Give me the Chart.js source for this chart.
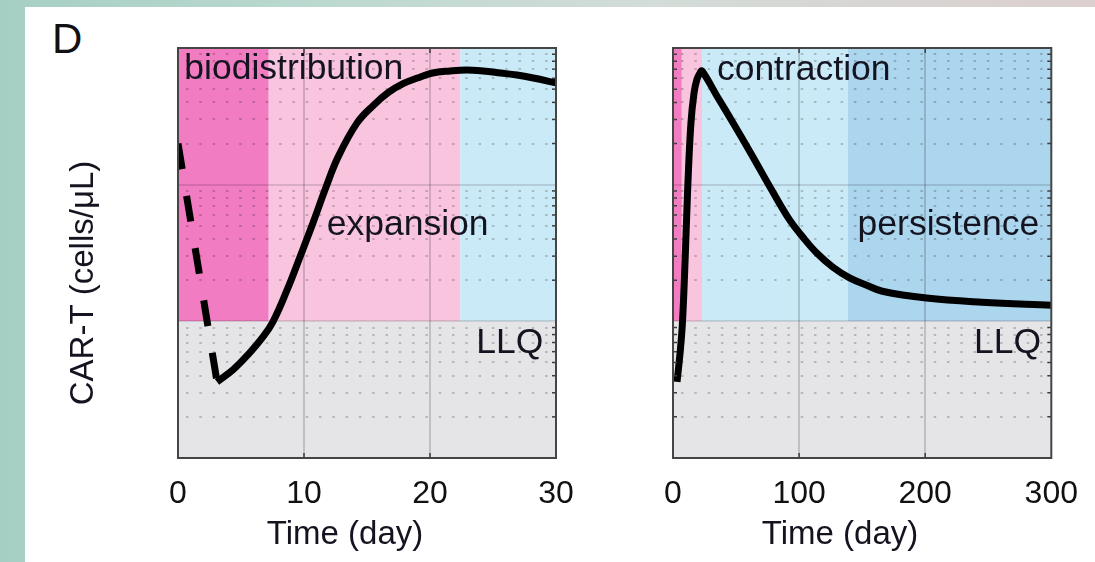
<!DOCTYPE html>
<html>
<head>
<meta charset="utf-8">
<script src="https://cdn.jsdelivr.net/npm/chart.js@4.4.1/dist/chart.umd.min.js"></script>
<style>
  html, body { margin: 0; padding: 0; }
  body {
    width: 1095px; height: 562px; overflow: hidden; position: relative;
    background: linear-gradient(90deg, #a6cfc3 0%, #bcd9d0 30%, #d3dcd8 60%, #dccfcf 100%);
    font-family: 'Liberation Sans', Arial, sans-serif;
  }
  #sheet { position: absolute; left: 25px; top: 7px; right: 0; bottom: 0; background: #fff; }
  #panelTag { position: absolute; left: 52px; top: 18px; font-size: 42px; line-height: 42px; color: #111; }
  .wrap { position: absolute; top: 0; height: 562px; }
  #wrapLeft { left: 0; width: 615px; }
  #wrapRight { left: 615px; width: 480px; }
</style>
</head>
<body>
<div id="sheet"></div>
<div id="panelTag">D</div>
<div class="wrap" id="wrapLeft"><canvas id="chart1"></canvas></div>
<div class="wrap" id="wrapRight"><canvas id="chart2"></canvas></div>
<script>
// ---- data (cells/uL on a log axis, days on x) ----
const washoutDays = [0, 3.1];
const washoutCells = [20, 0.36];

const shortDays  = [3.1, 4.4, 5.7, 6.6, 7.5, 8.65, 9.68, 10.71, 11.75, 12.7, 14.2, 15.5, 16.7, 17.9, 19.0, 20.2, 21.6, 22.9, 24.2, 25.6, 26.9, 28.2, 30];
const shortCells = [0.36, 0.445, 0.59, 0.74, 0.98, 1.69, 2.96, 5.24, 9.6, 15.9, 28.2, 38, 47.3, 55, 60.3, 65.6, 67.9, 69.0, 67.9, 65.6, 63.4, 60.3, 55.5];

const longDays  = [3.2, 5.7, 7.5, 9.7, 11.7, 14.2, 16.7, 19, 21.5, 23, 34.8, 49.1, 62.5, 78.4, 92.6, 102.9, 114, 126.6, 140, 153.6, 166, 201, 245, 300];
const longCells = [0.36, 0.6, 0.98, 2.96, 9.6, 28, 47, 59, 66, 68, 44.6, 26.9, 16.5, 9.1, 5.5, 4.14, 3.16, 2.5, 2.08, 1.84, 1.66, 1.48, 1.38, 1.31];

const shortPhaseEdges = [0, 7.2, 22.4, 30];
const longPhaseEdges = [0, 7, 23, 138.5, 300];
const phaseColors = ['#f27cc2', '#f8c4de', '#cbeaf7', '#acd5ee'];
const belowLlqColor = '#e5e5e7';

const llq = 1;
const yMin = 0.1, yMax = 100;
const decadeLevels = [0.1, 1, 10, 100];
const minorLevels = [0.2, 0.3, 0.4, 0.5, 0.6, 0.7, 0.8, 0.9, 2, 3, 4, 5, 6, 7, 8, 9, 20, 30, 40, 50, 60, 70, 80, 90];
const shortTicks = [0, 10, 20, 30];
const longTicks = [0, 100, 200, 300];

const FONT = "'Liberation Sans', Arial, sans-serif";

function pts(xs, ys) {
    return xs.map((x, i) => ({x: x, y: ys[i]}));
}

// backgrounds, frame, small ticks and the text labels
const deco = {
    id: 'deco',
    beforeDraw(chart, args, opts) {
        const ctx = chart.ctx, x = chart.scales.x, y = chart.scales.y, a = chart.chartArea;
        const top = y.getPixelForValue(yMax), mid = y.getPixelForValue(llq), bot = y.getPixelForValue(yMin);
        ctx.save();
        for (let i = 0; i < opts.edges.length - 1; i++) {
            const x0 = x.getPixelForValue(opts.edges[i]), x1 = x.getPixelForValue(opts.edges[i + 1]);
            ctx.fillStyle = phaseColors[i];
            ctx.fillRect(x0, top, x1 - x0, mid - top);
        }
        ctx.fillStyle = belowLlqColor;
        ctx.fillRect(a.left, mid, a.width, bot - mid);
        ctx.restore();
    },
    afterDatasetsDraw(chart, args, opts) {
        const ctx = chart.ctx, x = chart.scales.x, y = chart.scales.y, a = chart.chartArea;
        ctx.save();
        ctx.strokeStyle = '#3c3c3c';
        ctx.lineWidth = 1.5;
        minorLevels.forEach(v => {
            const py = y.getPixelForValue(v);
            ctx.beginPath();
            ctx.moveTo(a.right - 4, py); ctx.lineTo(a.right, py);
            if (opts.leftTicks) { ctx.moveTo(a.left, py); ctx.lineTo(a.left + 4, py); }
            ctx.stroke();
        });
        opts.xTicks.slice(1, -1).forEach(v => {
            const px = x.getPixelForValue(v);
            ctx.beginPath();
            ctx.moveTo(px, a.bottom); ctx.lineTo(px, a.bottom - 5);
            ctx.moveTo(px, a.top); ctx.lineTo(px, a.top + 5);
            ctx.stroke();
        });
        ctx.strokeStyle = '#454545';
        ctx.lineWidth = 2;
        ctx.strokeRect(a.left, a.top, a.width, a.height);
        ctx.restore();
    },
    afterDraw(chart, args, opts) {
        const ctx = chart.ctx, x = chart.scales.x, y = chart.scales.y, a = chart.chartArea;
        ctx.save();
        ctx.fillStyle = '#141420';
        ctx.textBaseline = 'alphabetic';
        ctx.font = '35.5px ' + FONT;
        opts.notes.forEach(n => {
            ctx.textAlign = n.align;
            ctx.fillText(n.text, x.getPixelForValue(n.x), y.getPixelForValue(n.y));
        });
        ctx.font = '33px ' + FONT;
        ctx.textAlign = 'center';
        ctx.textBaseline = 'middle';
        ctx.fillText('Time (day)', a.left + 167, a.bottom + 77);
        if (opts.yTitle) {
            ctx.translate(a.left - 94, (a.top + a.bottom) / 2 + 30);
            ctx.rotate(-Math.PI / 2);
            ctx.fillText(opts.yTitle, 0, 0);
        }
        ctx.restore();
    }
};

function makeChart(id, days, cells, dashed, xMax, xTicks, edges, notes, pad, leftTicks, yTitle) {
    const sets = [{
        data: pts(days, cells),
        borderColor: '#000', borderWidth: 7, pointRadius: 0,
        tension: 0.4, borderJoinStyle: 'round', clip: 0
    }];
    if (dashed) {
        sets.push({
            data: pts(washoutDays, washoutCells),
            borderColor: '#000', borderWidth: 7, pointRadius: 0,
            borderDash: [26, 27], borderCapStyle: 'butt', clip: 0
        });
    }
    return new Chart(document.getElementById(id).getContext('2d'), {
        type: 'line',
        data: {datasets: sets},
        options: {
            responsive: true, maintainAspectRatio: false, animation: false,
            layout: {padding: pad},
            plugins: {
                legend: {display: false}, tooltip: {enabled: false},
                deco: {edges: edges, notes: notes, xTicks: xTicks, leftTicks: leftTicks, yTitle: yTitle}
            },
            scales: {
                x: {
                    type: 'linear', min: 0, max: xMax,
                    afterBuildTicks: s => { s.ticks = xTicks.map(v => ({value: v})); },
                    ticks: {font: {family: FONT, size: 32}, color: '#111', padding: 17, maxRotation: 0, autoSkip: false,
                            callback: v => String(v)},
                    grid: {drawTicks: false, lineWidth: 2,
                           color: c => (c.tick && c.tick.value > 0 && c.tick.value < xMax) ? 'rgba(0,0,0,0.16)' : 'rgba(0,0,0,0)'},
                    border: {display: false},
                    afterFit: s => { s.height = 562 - 458; }
                },
                y: {
                    type: 'logarithmic', min: yMin, max: yMax,
                    afterBuildTicks: s => { s.ticks = decadeLevels.map(v => ({value: v, major: true})); },
                    ticks: {display: false},
                    grid: {drawTicks: false, lineWidth: 2, color: 'rgba(0,0,0,0.12)'},
                    border: {display: false},
                    afterFit: s => { s.width = 0; }
                },
                yMinor: {
                    type: 'logarithmic', min: yMin, max: yMax, position: 'left',
                    afterBuildTicks: s => { s.ticks = minorLevels.map(v => ({value: v})); },
                    ticks: {display: false},
                    grid: {drawTicks: false, lineWidth: 2, color: 'rgba(0,0,0,0.2)'},
                    border: {display: false, dash: [2.5, 10.8], dashOffset: -8},
                    afterFit: s => { s.width = 0; }
                }
            }
        },
        plugins: [deco]
    });
}

const chart1 = makeChart('chart1', shortDays, shortCells, true, 30, shortTicks, shortPhaseEdges,
    [
        {text: 'biodistribution', x: 0.5, y: 59.3, align: 'left'},
        {text: 'expansion', x: 11.8, y: 4.28, align: 'left'},
        {text: 'LLQ', x: 29.0, y: 0.586, align: 'right'}
    ],
    {left: 178, top: 48, right: 59, bottom: 0}, false, 'CAR-T (cells/\u03bcL)');

const chart2 = makeChart('chart2', longDays, longCells, false, 300, longTicks, longPhaseEdges,
    [
        {text: 'contraction', x: 34.8, y: 58.3, align: 'left'},
        {text: 'persistence', x: 146.4, y: 4.28, align: 'left'},
        {text: 'LLQ', x: 292, y: 0.586, align: 'right'}
    ],
    {left: 58, top: 48, right: 43, bottom: 0}, true, null);
</script>
</body>
</html>
